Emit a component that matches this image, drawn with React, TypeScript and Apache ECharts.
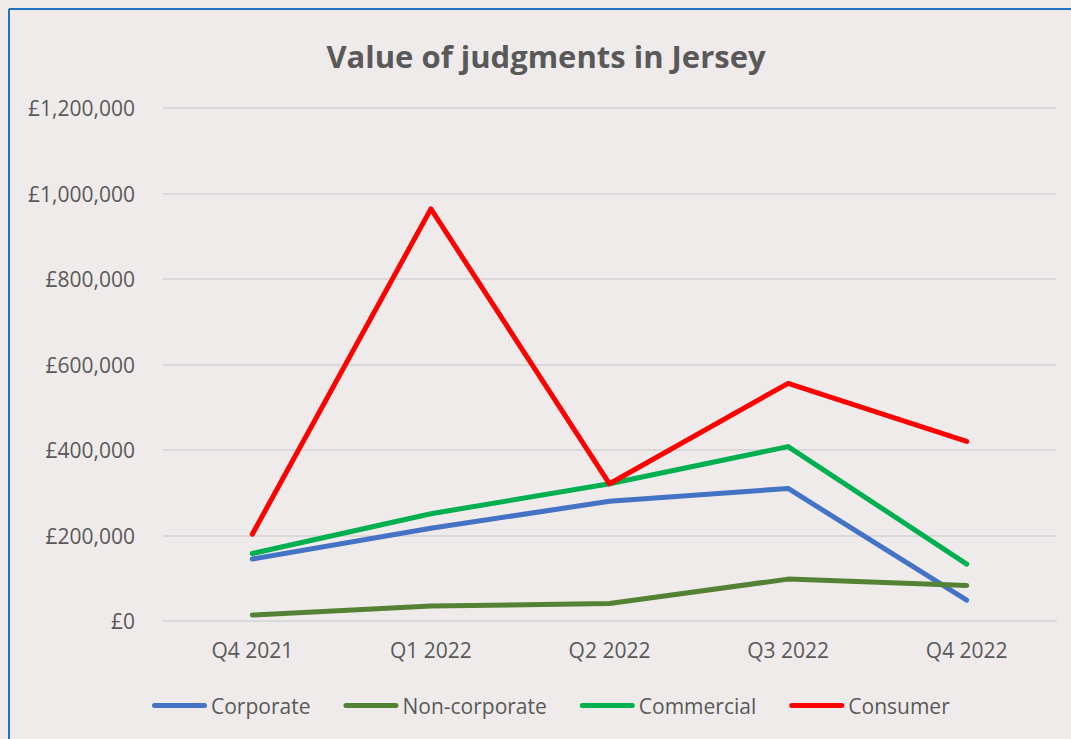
import React, { useEffect, useRef } from "react";
import * as echarts from "echarts";

const categories = ["Q4 2021", "Q1 2022", "Q2 2022", "Q3 2022", "Q4 2022"];
const corporate = [145000, 217000, 280000, 310000, 49000];
const nonCorporate = [14000, 35000, 41000, 98000, 83000];
const commercial = [158000, 251000, 321000, 408000, 133000];
const consumer = [203000, 964000, 321000, 556000, 420000];
const seriesNames = ["Corporate", "Non-corporate", "Commercial", "Consumer"];
const seriesColors = ["#4472C4", "#548235", "#00B050", "#FF0000"];
const seriesData = [corporate, nonCorporate, commercial, consumer];

const FONT = "'Open Sans', 'Noto Sans', sans-serif";
const TEXT = "#595959";
const BG = "#EEEBEA";

const legendIcon =
  "path://M2.5,0 L52.5,0 A2.5,2.5 0 0 1 52.5,5 L2.5,5 A2.5,2.5 0 0 1 2.5,0 Z";

export default function App() {
  const ref = useRef<HTMLDivElement>(null);
  useEffect(() => {
    document.body.style.margin = "0";
    document.body.style.background = BG;
    const chart = echarts.init(ref.current!, null, { renderer: "svg" });
    chart.setOption({
      animation: false,
      backgroundColor: BG,
      textStyle: { fontFamily: FONT, color: TEXT },
      title: {
        text: "Value of judgments in Jersey",
        left: 541,
        textAlign: "center",
        top: 35,
        textStyle: { fontFamily: FONT, fontSize: 31, fontWeight: "bold", color: TEXT },
      },
      graphic: [
        {
          type: "line",
          shape: { x1: 9, y1: 9, x2: 1071, y2: 9 },
          style: { stroke: "#1F73C3", lineWidth: 2 },
        },
        {
          type: "line",
          shape: { x1: 9, y1: 9, x2: 9, y2: 739 },
          style: { stroke: "#1F73C3", lineWidth: 2 },
        },
      ],
      grid: { left: 163, right: 15, top: 108, bottom: 118 },
      legend: {
        bottom: 23,
        left: 152,
        padding: 0,
        itemWidth: 55,
        itemHeight: 5,
        itemGap: 33,
        icon: legendIcon,
        textStyle: { fontFamily: FONT, fontSize: 21, color: TEXT, padding: [0, 0, 0, -1] },
        data: seriesNames,
      },
      xAxis: {
        type: "category",
        data: categories,
        boundaryGap: true,
        axisLine: { lineStyle: { color: "#D9D9D9", width: 2 } },
        axisTick: { show: false },
        axisLabel: { fontFamily: FONT, fontSize: 21, color: TEXT, margin: 18 },
      },
      yAxis: {
        type: "value",
        min: 0,
        max: 1200000,
        interval: 200000,
        axisLine: { show: false },
        axisTick: { show: false },
        splitLine: { lineStyle: { color: "#D9D9D9", width: 2 } },
        axisLabel: {
          fontFamily: FONT,
          fontSize: 21,
          color: TEXT,
          margin: 28,
          formatter: (v: number) => "£" + v.toLocaleString("en-GB"),
        },
      },
      series: seriesNames.map((name, i) => ({
        name,
        type: "line",
        data: seriesData[i],
        showSymbol: false,
        symbol: "none",
        itemStyle: { color: seriesColors[i] },
        lineStyle: { color: seriesColors[i], width: 5, cap: "round", join: "round" },
      })),
    });
    return () => chart.dispose();
  }, []);
  return <div ref={ref} style={{ width: 1071, height: 739 }} />;
}
